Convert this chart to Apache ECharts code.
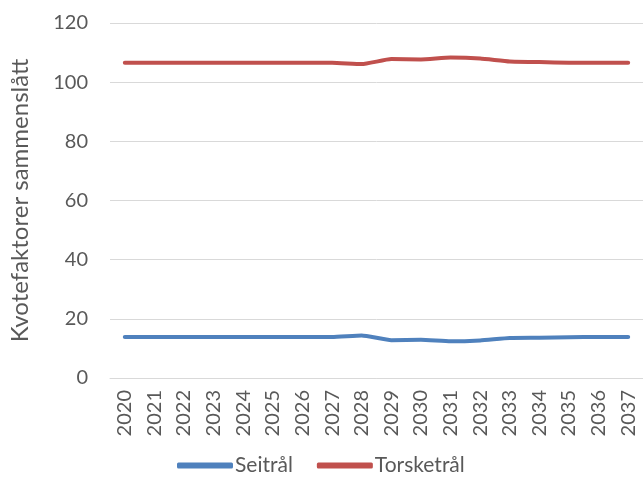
<!DOCTYPE html>
<html>
<head>
<meta charset="utf-8">
<script src="https://cdn.jsdelivr.net/npm/echarts@6/dist/echarts.min.js"></script>
<style>
  html, body { margin: 0; padding: 0; background: #fff; }
  #chart { width: 643px; height: 492px; }
</style>
</head>
<body>
<div id="chart"></div>
<script>
// Years on the category axis
const years = ['2020','2021','2022','2023','2024','2025','2026','2027','2028',
               '2029','2030','2031','2032','2033','2034','2035','2036','2037'];
// Combined quota factors per fleet group
const seitral = [13.9,13.9,13.9,13.9,13.9,13.9,13.9,13.9,14.4,12.8,12.9,12.4,12.7,13.5,13.6,13.8,13.9,13.9];
const torsketral = [106.6,106.6,106.6,106.6,106.6,106.6,106.6,106.6,106.1,107.8,107.7,108.3,108.0,107.0,106.8,106.6,106.6,106.6];
// Value axis ticks
const yTicks = { min: 0, max: 120, interval: 20 };

const textColor = '#595959';
const font = 'Lato, "Open Sans", sans-serif';

const chart = echarts.init(document.getElementById('chart'), null, { renderer: 'canvas' });
chart.setOption({
  animation: false,
  textStyle: { fontFamily: font },
  grid: { left: 105, right: -2, top: 23, bottom: 114, containLabel: false },
  legend: {
    top: 450,
    left: 172,
    itemWidth: 56,
    itemHeight: 6,
    itemGap: 24,
    icon: 'roundRect',
    textStyle: { color: textColor, fontSize: 21, fontFamily: font, padding: [0, 0, 0, -3] },
    data: ['Seitrål', 'Torsketrål']
  },
  xAxis: {
    type: 'category',
    data: years,
    boundaryGap: true,
    axisLine: { show: true, lineStyle: { color: '#D9D9D9', width: 1 } },
    axisTick: { show: false },
    axisLabel: { rotate: 90, color: textColor, fontSize: 20, margin: 12, fontFamily: font }
  },
  yAxis: {
    type: 'value',
    min: yTicks.min,
    max: yTicks.max,
    interval: yTicks.interval,
    name: 'Kvotefaktorer sammenslått',
    nameLocation: 'middle',
    nameGap: 78,
    nameTextStyle: { color: textColor, fontSize: 24, fontFamily: font },
    axisLine: { show: false },
    axisTick: { show: false },
    axisLabel: { color: textColor, fontSize: 20, margin: 22, fontFamily: font },
    splitLine: { lineStyle: { color: '#D9D9D9', width: 1 } }
  },
  series: [
    {
      name: 'Seitrål',
      type: 'line',
      data: seitral,
      symbol: 'none',
      smooth: 0.15,
      lineStyle: { color: '#4F81BD', width: 4, cap: 'round', join: 'round' },
      itemStyle: { color: '#4F81BD' }
    },
    {
      name: 'Torsketrål',
      type: 'line',
      data: torsketral,
      symbol: 'none',
      smooth: 0.15,
      lineStyle: { color: '#C0504D', width: 4, cap: 'round', join: 'round' },
      itemStyle: { color: '#C0504D' }
    }
  ]
});
</script>
</body>
</html>
